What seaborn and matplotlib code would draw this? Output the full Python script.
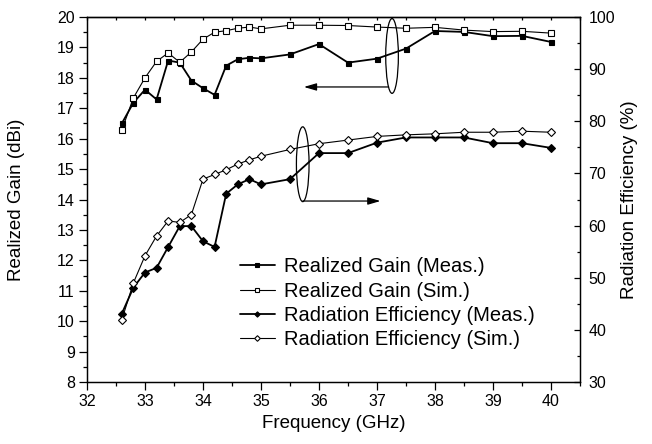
import matplotlib
matplotlib.use("Agg")
import matplotlib.pyplot as plt
from matplotlib.patches import Ellipse
from matplotlib.ticker import MultipleLocator
import pandas as pd
import seaborn as sns

# Frequency points (GHz)
freq = [32.6, 32.8, 33.0, 33.2, 33.4, 33.6, 33.8, 34.0, 34.2, 34.4, 34.6, 34.8,
        35.0, 35.5, 36.0, 36.5, 37.0, 37.5, 38.0, 38.5, 39.0, 39.5, 40.0]

# Realized gain (dBi)
gain_meas = [16.50, 17.18, 17.61, 17.29, 18.57, 18.50, 17.91, 17.66, 17.44, 18.40,
             18.61, 18.66, 18.64, 18.77, 19.11, 18.50, 18.63, 18.96, 19.54, 19.51,
             19.37, 19.38, 19.18]
gain_sim = [16.28, 17.34, 18.00, 18.54, 18.82, 18.51, 18.85, 19.27, 19.50, 19.55,
            19.63, 19.67, 19.61, 19.73, 19.73, 19.72, 19.67, 19.63, 19.66, 19.57,
            19.52, 19.53, 19.47]

# Radiation efficiency (%)
eff_meas = [43.1, 48.1, 51.0, 51.9, 55.9, 59.9, 59.9, 57.0, 55.9, 66.1, 67.9, 68.9,
            67.9, 68.9, 73.9, 73.9, 75.9, 76.9, 76.9, 76.9, 75.8, 75.8, 74.9]
eff_sim = [41.9, 49.0, 54.2, 58.0, 60.9, 60.6, 62.1, 68.9, 69.8, 70.7, 71.8, 72.6,
           73.3, 74.6, 75.7, 76.4, 77.1, 77.4, 77.6, 77.9, 77.9, 78.1, 77.9]

labels = ["Realized Gain (Meas.)", "Realized Gain (Sim.)",
          "Radiation Efficiency (Meas.)", "Radiation Efficiency (Sim.)"]

df = pd.DataFrame({"freq": freq, "gain_meas": gain_meas, "gain_sim": gain_sim,
                   "eff_meas": eff_meas, "eff_sim": eff_sim})

sns.set_theme(style="ticks")
plt.rcParams["font.family"] = ["Liberation Sans", "DejaVu Sans"]
for key in ("text.color", "axes.labelcolor", "xtick.color", "ytick.color", "axes.edgecolor"):
    plt.rcParams[key] = "black"

fig = plt.figure(figsize=(6.52, 4.44), dpi=100)
ax = fig.add_axes([0.1334, 0.1396, 0.7561, 0.8221])
ax2 = ax.twinx()

common = dict(color="black", markeredgecolor="black", markeredgewidth=0.8)
sns.lineplot(data=df, x="freq", y="gain_meas", ax=ax, marker="s", markersize=3.6,
             markerfacecolor="black", linewidth=1.3, **common)
sns.lineplot(data=df, x="freq", y="gain_sim", ax=ax, marker="s", markersize=3.8,
             markerfacecolor="white", linewidth=0.8, **common)
sns.lineplot(data=df, x="freq", y="eff_meas", ax=ax2, marker="D", markersize=3.6,
             markerfacecolor="black", linewidth=1.3, **common)
sns.lineplot(data=df, x="freq", y="eff_sim", ax=ax2, marker="D", markersize=3.8,
             markerfacecolor="white", linewidth=0.8, **common)

ax.set_xlim(32, 40.5)
ax.set_ylim(8, 20)
ax2.set_ylim(30, 100)

ax.xaxis.set_major_locator(MultipleLocator(1))
ax.xaxis.set_minor_locator(MultipleLocator(0.5))
ax.yaxis.set_major_locator(MultipleLocator(1))
ax.yaxis.set_minor_locator(MultipleLocator(0.5))
ax2.yaxis.set_major_locator(MultipleLocator(10))
ax2.yaxis.set_minor_locator(MultipleLocator(5))

ax.tick_params(axis="both", which="major", direction="out", length=5.8, width=0.9,
               labelsize=11.5, pad=3, top=False, right=False)
ax.tick_params(axis="both", which="minor", direction="out", length=2.9, width=0.9,
               top=False, right=False)
ax2.tick_params(axis="y", which="major", direction="in", length=4.3, width=0.9,
                labelsize=11.5, pad=6, left=False, right=True)
ax2.tick_params(axis="y", which="minor", direction="in", length=2.2, width=0.9,
                left=False, right=True)

# top axis: inward ticks only
top = ax.secondary_xaxis("top")
top.xaxis.set_major_locator(MultipleLocator(0.5))
top.tick_params(axis="x", which="major", direction="in", length=2.5, width=0.9,
                labeltop=False)

for a in (ax, ax2):
    for s in a.spines.values():
        s.set_linewidth(0.9)
        s.set_color("black")
        s.set_visible(True)
for s in top.spines.values():
    s.set_linewidth(0.9)

ax.set_xlabel("Frequency (GHz)", fontsize=13.5)
ax.set_ylabel("Realized Gain (dBi)", fontsize=13.5)
ax2.set_ylabel("Radiation Efficiency (%)", fontsize=13.5)
ax.xaxis.set_label_coords(0.5, -0.09)
ax.yaxis.set_label_coords(-0.126, 0.5)
ax2.yaxis.set_label_coords(1.083, 0.5)

# grouping ellipses with pointer arrows
ax.add_patch(Ellipse((37.26, 18.72), width=0.218, height=2.46, fill=False,
                     edgecolor="black", linewidth=0.9, clip_on=False))
ax.add_patch(Ellipse((35.72, 15.16), width=0.218, height=2.46, fill=False,
                     edgecolor="black", linewidth=0.9, clip_on=False))
arrow = dict(arrowstyle="-|>,head_length=0.75,head_width=0.22", mutation_scale=10,
             color="black", linewidth=0.9, shrinkA=0, shrinkB=0)
ax.annotate("", xy=(35.74, 17.70), xytext=(37.20, 17.70), arrowprops=arrow)
ax.annotate("", xy=(37.06, 13.95), xytext=(35.72, 13.95), arrowprops=arrow)

handles = ax.get_lines()[:2] + ax2.get_lines()[:2]
ax2.legend(handles, labels, loc="upper left", bbox_to_anchor=(0.31, 0.342),
           frameon=False, fontsize=14.5, handlelength=1.75, handletextpad=0.45,
           labelspacing=0.27, borderaxespad=0, borderpad=0, markerscale=0.75)

fig.savefig("out.png", dpi=100)
